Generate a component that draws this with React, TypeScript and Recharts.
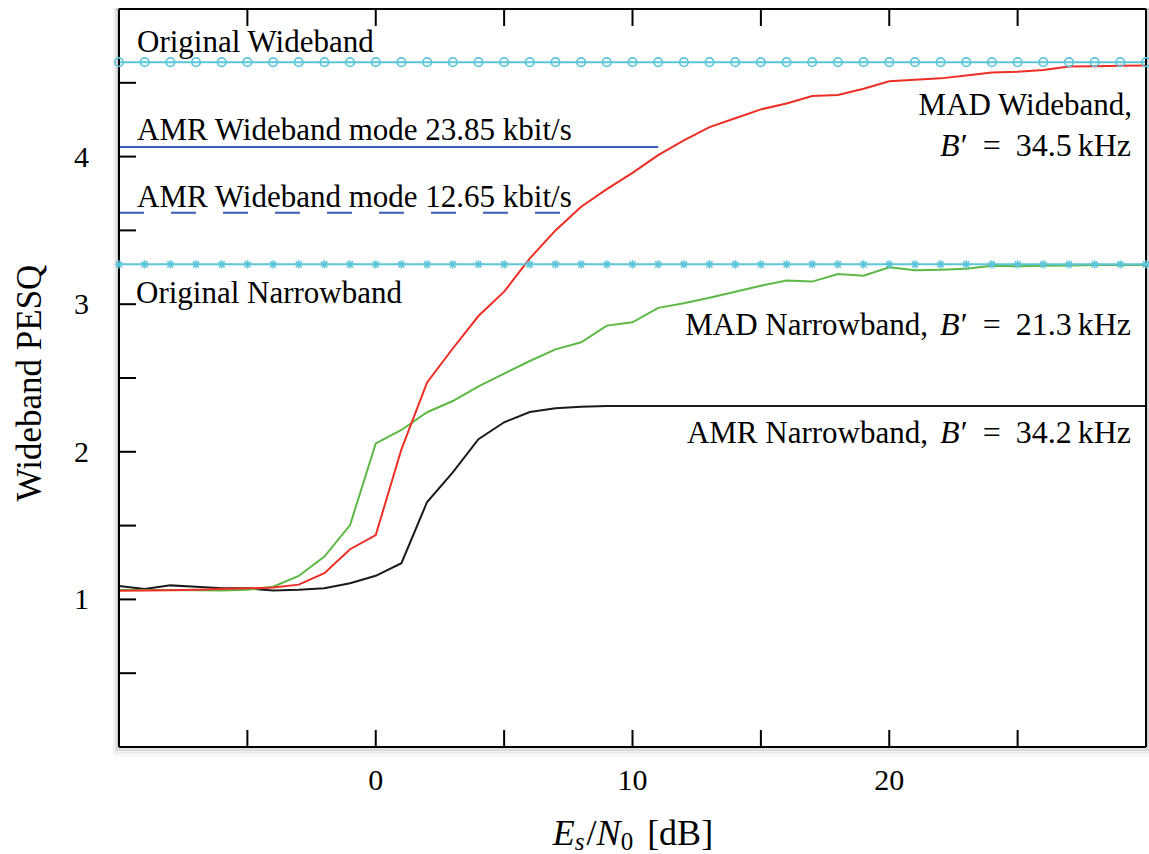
import React from "react";
import { LineChart, Line, XAxis, YAxis, ReferenceArea } from "recharts";

// Es/N0 grid in dB
const SNR_DB = [
  -10, -9, -8, -7, -6, -5, -4, -3, -2, -1, 0, 1, 2, 3, 4, 5, 6, 7, 8, 9, 10,
  11, 12, 13, 14, 15, 16, 17, 18, 19, 20, 21, 22, 23, 24, 25, 26, 27, 28, 29, 30,
];

const MAD_WIDEBAND = [
  1.058, 1.06, 1.062, 1.065, 1.07, 1.075, 1.08, 1.1, 1.177, 1.34, 1.436, 2.017,
  2.47, 2.7, 2.92, 3.085, 3.31, 3.5, 3.66, 3.78, 3.89, 4.01, 4.11, 4.2, 4.26,
  4.32, 4.36, 4.41, 4.417, 4.46, 4.51, 4.52, 4.53, 4.55, 4.57, 4.575, 4.587,
  4.61, 4.612, 4.615, 4.618,
];

const MAD_NARROWBAND = [
  1.064, 1.064, 1.064, 1.062, 1.06, 1.065, 1.086, 1.159, 1.29, 1.504, 2.057,
  2.148, 2.268, 2.344, 2.443, 2.53, 2.615, 2.694, 2.742, 2.855, 2.877, 2.975,
  3.006, 3.044, 3.085, 3.125, 3.16, 3.153, 3.205, 3.193, 3.25, 3.23, 3.234,
  3.24, 3.26, 3.257, 3.26, 3.262, 3.265, 3.265, 3.265,
];

const AMR_NARROWBAND = [
  1.09, 1.07, 1.095, 1.085, 1.075, 1.075, 1.06, 1.065, 1.075, 1.11, 1.16,
  1.245, 1.66, 1.86, 2.085, 2.2, 2.27, 2.295, 2.305, 2.31, 2.31, 2.31, 2.31,
  2.31, 2.31, 2.31, 2.31, 2.31, 2.31, 2.31, 2.31, 2.31, 2.31, 2.31, 2.31, 2.31,
  2.31, 2.31, 2.31, 2.31, 2.31,
];

const ORIGINAL_WIDEBAND = 4.64;
const ORIGINAL_NARROWBAND = 3.27;

const AMR_WB_2385 = [
  { x: -10, y: 4.065 },
  { x: 11, y: 4.065 },
];
const AMR_WB_1265 = [
  { x: -10, y: 3.62 },
  { x: 7.2, y: 3.62 },
];

const X_TICKS = [-5, 0, 5, 10, 15, 20, 25];
const X_LABELS = [0, 10, 20];
const Y_TICKS = [0.5, 1, 1.5, 2, 2.5, 3, 3.5, 4, 4.5];
const Y_LABELS = [1, 2, 3, 4];

const rows = SNR_DB.map((x, i) => ({
  x,
  madWb: MAD_WIDEBAND[i],
  madNb: MAD_NARROWBAND[i],
  amrNb: AMR_NARROWBAND[i],
  origWb: ORIGINAL_WIDEBAND,
  origNb: ORIGINAL_NARROWBAND,
}));

const FONT = "'Liberation Serif', 'Times New Roman', serif";
const CYAN = "#5BC5DA";
const BLUE = "#3E5BB7";
const TICK = 17;

const BottomTick = ({ x, y, payload }: any) => (
  <g>
    <line x1={x} y1={y} x2={x} y2={y - TICK} stroke="#000" strokeWidth={2} />
    {X_LABELS.includes(payload.value) && (
      <text x={x} y={y + 43} textAnchor="middle" fontSize={30} fontFamily={FONT} fill="#000">
        {payload.value}
      </text>
    )}
  </g>
);

const TopTick = ({ x, y }: any) => (
  <line x1={x} y1={y} x2={x} y2={y + TICK} stroke="#000" strokeWidth={2} />
);

const LeftTick = ({ x, y, payload }: any) => (
  <g>
    <line x1={x} y1={y} x2={x + TICK} y2={y} stroke="#000" strokeWidth={2} />
    {Y_LABELS.includes(payload.value) && (
      <text x={x - 30} y={y + 10} textAnchor="end" fontSize={30} fontFamily={FONT} fill="#000">
        {payload.value}
      </text>
    )}
  </g>
);

const RightTick = ({ x, y }: any) => (
  <line x1={x} y1={y} x2={x - TICK} y2={y} stroke="#000" strokeWidth={2} />
);

const StarDot = (props: any) => {
  const { cx, cy, index } = props;
  const a = 4.2;
  const d = 3;
  return (
    <g key={`star-${index}`} stroke={CYAN} strokeWidth={1.5}>
      <line x1={cx - a} y1={cy} x2={cx + a} y2={cy} />
      <line x1={cx} y1={cy - a} x2={cx} y2={cy + a} />
      <line x1={cx - d} y1={cy - d} x2={cx + d} y2={cy + d} />
      <line x1={cx - d} y1={cy + d} x2={cx + d} y2={cy - d} />
    </g>
  );
};

// soft grey shadow round the plot frame
const FrameShadow = (props: any) => {
  const { x, y, width, height } = props;
  const bands = [0.45, 0.32, 0.22, 0.14, 0.08, 0.04];
  return (
    <g>
      {bands.map((o, i) => (
        <rect
          key={i}
          x={x - 1 - i}
          y={y}
          width={width + 2 + 2 * i}
          height={height + 2 + i * 1.6}
          fill="none"
          stroke="#7a7a7a"
          strokeOpacity={o}
          strokeWidth={1}
        />
      ))}
      <rect x={x} y={y} width={width} height={height} fill="#fff" />
    </g>
  );
};

const MathB = ({ value }: { value: string }) => (
  <>
    <tspan fontStyle="italic">B</tspan>
    <tspan dx={1}>{"\u2032"}</tspan>
    <tspan dx={15}>=</tspan>
    <tspan dx={15}>{value}</tspan>
    <tspan dx={6}>kHz</tspan>
  </>
);

export default function App() {
  return (
    <div style={{ position: "absolute", left: 0, top: 0, width: 1149, height: 854, background: "#fff" }}>
      <LineChart width={1149} height={854} data={rows} margin={{ top: 0, right: 0, bottom: 0, left: 0 }}>
        <ReferenceArea
          xAxisId="b"
          yAxisId="l"
          x1={-10}
          x2={30}
          y1={0}
          y2={5}
          shape={(p: any) => <FrameShadow {...p} />}
        />
        <XAxis
          xAxisId="b"
          dataKey="x"
          type="number"
          domain={[-10, 30]}
          ticks={X_TICKS}
          height={107}
          axisLine={{ stroke: "#000", strokeWidth: 2 }}
          tickLine={false}
          tickSize={0}
          tickMargin={0}
          tick={<BottomTick />}
          interval={0}
        />
        <XAxis
          xAxisId="t"
          orientation="top"
          type="number"
          dataKey="x"
          domain={[-10, 30]}
          ticks={X_TICKS}
          height={9}
          axisLine={{ stroke: "#000", strokeWidth: 2 }}
          tickLine={false}
          tickSize={0}
          tickMargin={0}
          tick={<TopTick />}
          interval={0}
        />
        <YAxis
          yAxisId="l"
          type="number"
          domain={[0, 5]}
          ticks={Y_TICKS}
          width={119}
          axisLine={{ stroke: "#000", strokeWidth: 2 }}
          tickLine={false}
          tickSize={0}
          tickMargin={0}
          tick={<LeftTick />}
          interval={0}
        />
        <YAxis
          yAxisId="r"
          orientation="right"
          type="number"
          domain={[0, 5]}
          ticks={Y_TICKS}
          width={3}
          axisLine={{ stroke: "#000", strokeWidth: 2 }}
          tickLine={false}
          tickSize={0}
          tickMargin={0}
          tick={<RightTick />}
          interval={0}
        />
        <Line
          xAxisId="b"
          yAxisId="l"
          data={AMR_WB_2385}
          dataKey="y"
          stroke={BLUE}
          strokeWidth={2}
          dot={false}
          isAnimationActive={false}
        />
        <Line
          xAxisId="b"
          yAxisId="l"
          data={AMR_WB_1265}
          dataKey="y"
          stroke={BLUE}
          strokeWidth={2}
          strokeDasharray="25 27"
          dot={false}
          isAnimationActive={false}
        />
        <Line xAxisId="b" yAxisId="l" dataKey="amrNb" stroke="#1a1a1a" strokeWidth={2} dot={false} isAnimationActive={false} />
        <Line xAxisId="b" yAxisId="l" dataKey="madNb" stroke="#5CB946" strokeWidth={2} dot={false} isAnimationActive={false} />
        <Line xAxisId="b" yAxisId="l" dataKey="madWb" stroke="#EE2E24" strokeWidth={2} dot={false} isAnimationActive={false} />
        <Line
          xAxisId="b"
          yAxisId="l"
          dataKey="origNb"
          stroke={CYAN}
          strokeWidth={2}
          dot={<StarDot />}
          isAnimationActive={false}
        />
        <Line
          xAxisId="b"
          yAxisId="l"
          dataKey="origWb"
          stroke={CYAN}
          strokeWidth={2}
          dot={{ r: 4.2, stroke: CYAN, strokeWidth: 1.7, fill: "none" }}
          isAnimationActive={false}
        />
      </LineChart>

      <svg
        width={1149}
        height={854}
        style={{ position: "absolute", left: 0, top: 0, pointerEvents: "none" }}
        fontFamily={FONT}
        fill="#000"
      >
        <text fontSize={31} x={137} y={51.5}>Original Wideband</text>
        <text fontSize={31} x={137} y={140}>AMR Wideband mode 23.85 kbit/s</text>
        <text fontSize={31} x={137} y={207}>AMR Wideband mode 12.65 kbit/s</text>
        <text fontSize={31} x={136} y={303}>Original Narrowband</text>

        <text fontSize={31} x={1132} y={115} textAnchor="end">MAD Wideband,</text>
        <text fontSize={32} x={1131} y={156} textAnchor="end">
          <MathB value="34.5" />
        </text>

        <text fontSize={31} x={928} y={335} textAnchor="end">MAD Narrowband,</text>
        <text fontSize={32} x={1131} y={335} textAnchor="end">
          <MathB value="21.3" />
        </text>

        <text fontSize={31} x={928} y={443} textAnchor="end">AMR Narrowband,</text>
        <text fontSize={32} x={1131} y={443} textAnchor="end">
          <MathB value="34.2" />
        </text>

        <text fontSize={36} x={633} y={845} textAnchor="middle">
          <tspan fontStyle="italic">E</tspan>
          <tspan fontStyle="italic" fontSize={25} dy={5}>s</tspan>
          <tspan dy={-5} dx={2}>/</tspan>
          <tspan fontStyle="italic">N</tspan>
          <tspan fontSize={25} dy={5}>0</tspan>
          <tspan dy={-5} dx={14}>[dB]</tspan>
        </text>

        <text fontSize={35} textAnchor="middle" transform="translate(41,383) rotate(-90)">
          Wideband PESQ
        </text>
      </svg>
    </div>
  );
}
